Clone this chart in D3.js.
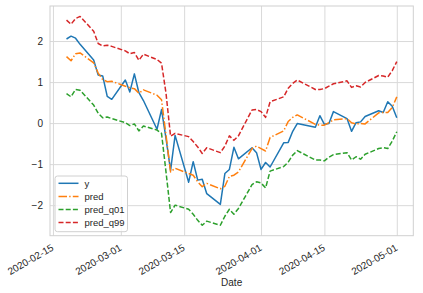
<!DOCTYPE html>
<html>
<head>
<meta charset="utf-8">
<script src="https://cdn.jsdelivr.net/npm/d3@7"></script>
<style>
  html, body { margin: 0; padding: 0; background: #ffffff; }
  svg { display: block; }
  text { font-family: "Liberation Sans", Arial, sans-serif; fill: #262626; }
</style>
</head>
<body>
<svg id="chart" width="423" height="293"></svg>
<script>
// ---- Data ----
const dates = [
  "2020-02-18","2020-02-19","2020-02-20","2020-02-21","2020-02-24","2020-02-25","2020-02-26","2020-02-27","2020-02-28",
  "2020-03-02","2020-03-03","2020-03-04","2020-03-05","2020-03-06","2020-03-09","2020-03-10","2020-03-11","2020-03-12","2020-03-13",
  "2020-03-16","2020-03-17","2020-03-18","2020-03-19","2020-03-20","2020-03-23","2020-03-24","2020-03-25","2020-03-26","2020-03-27",
  "2020-03-30","2020-03-31","2020-04-01","2020-04-02","2020-04-03","2020-04-06","2020-04-07","2020-04-08","2020-04-09",
  "2020-04-13","2020-04-14","2020-04-15","2020-04-16","2020-04-17","2020-04-20","2020-04-21","2020-04-22","2020-04-23","2020-04-24",
  "2020-04-27","2020-04-28","2020-04-29","2020-04-30","2020-05-01"
];
const yValues = [
  2.05, 2.12, 2.07, 1.92, 1.54, 1.17, 1.15, 0.65, 0.58,
  1.05, 0.76, 1.20, 0.74, 0.55, -0.15, 0.33, -0.38, -1.15, -0.30,
  -1.44, -0.94, -1.39, -1.37, -1.72, -1.98, -1.23, -1.13, -0.59, -0.87,
  -0.60, -0.72, -1.13, -0.96, -1.07, -0.48, -0.47, -0.20, -0.01,
  -0.10, 0.18, -0.03, -0.01, 0.28, 0.11, -0.20, 0.01, 0.03, 0.16,
  0.30, 0.26, 0.52, 0.41, 0.13
];
const predValues = [
  1.62, 1.52, 1.69, 1.71, 1.47, 1.22, 1.06, 1.01, 1.02,
  0.90, 0.86, 0.84, 0.73, 0.81, 0.68, 0.57, -0.30, -1.19, -1.10,
  -1.23, -1.27, -1.43, -1.55, -1.47, -1.60, -1.54, -1.30, -1.27, -1.19,
  -0.62, -0.56, -0.62, -0.68, -0.35, -0.19, 0.04, 0.14, 0.20,
  -0.03, -0.05, -0.05, 0.01, 0.08, 0.11, 0.01, -0.02, -0.01, -0.02,
  0.25, 0.26, 0.26, 0.38, 0.64
];
const q01Values = [
  0.72, 0.64, 0.82, 0.80, 0.44, 0.24, 0.13, 0.15, 0.11,
  0.01, -0.06, -0.02, -0.19, -0.07, -0.17, -0.25, -1.20, -2.18, -2.00,
  -2.10, -2.22, -2.37, -2.49, -2.39, -2.49, -2.27, -2.10, -2.22, -2.08,
  -1.50, -1.43, -1.46, -1.58, -1.17, -1.06, -0.95, -0.78, -0.67,
  -0.90, -0.90, -0.92, -0.83, -0.77, -0.72, -0.90, -0.82, -0.88, -0.76,
  -0.62, -0.60, -0.62, -0.44, -0.21
];
const q99Values = [
  2.51, 2.41, 2.55, 2.60, 2.24, 1.94, 1.88, 1.90, 1.87,
  1.76, 1.69, 1.72, 1.53, 1.68, 1.55, 1.46, 0.72, -0.32, -0.25,
  -0.33, -0.45, -0.58, -0.74, -0.60, -0.72, -0.56, -0.31, -0.42, -0.31,
  0.32, 0.33, 0.28, 0.14, 0.52, 0.64, 0.85, 0.97, 1.05,
  0.82, 0.82, 0.84, 0.90, 0.96, 1.03, 0.87, 0.91, 0.88, 0.99,
  1.16, 1.15, 1.12, 1.28, 1.50
];
const seriesNames = ["y", "pred", "pred_q01", "pred_q99"];
const xTickLabels = ["2020-02-15","2020-03-01","2020-03-15","2020-04-01","2020-04-15","2020-05-01"];
const yTickLabels = [-2, -1, 0, 1, 2];
const xLabel = "Date";

// ---- Styles ----
const colors = ["#1f77b4", "#ff7f0e", "#2ca02c", "#d62728"];
const dashes = [null, "8.5,2.2,1.4,2.2", "5,2.2", "5,2.2"];

const parse = d3.timeParse("%Y-%m-%d");
const dateObjs = dates.map(parse);
const allSeries = [yValues, predValues, q01Values, q99Values];

const plot = { left: 50, right: 413.3, top: 6, bottom: 235.7 };

// matplotlib-like 5% margins
const xExt = d3.extent(dateObjs);
const xPad = (xExt[1] - xExt[0]) * 0.05;
const x = d3.scaleTime()
  .domain([new Date(+xExt[0] - xPad), new Date(+xExt[1] + xPad)])
  .range([plot.left, plot.right]);

const allVals = allSeries.flat();
const yMin = d3.min(allVals), yMax = d3.max(allVals);
const yPad = (yMax - yMin) * 0.05;
const y = d3.scaleLinear()
  .domain([yMin - yPad, yMax + yPad])
  .range([plot.bottom, plot.top]);

const svg = d3.select("#chart");

// grid via axes
const gridColor = "#d9d9d9";
const xAxis = d3.axisBottom(x)
  .tickValues(xTickLabels.map(parse))
  .tickSize(-(plot.bottom - plot.top))
  .tickFormat(d3.timeFormat("%Y-%m-%d"));
const gx = svg.append("g")
  .attr("transform", `translate(0,${plot.bottom})`)
  .call(xAxis);
gx.select(".domain").remove();
gx.selectAll(".tick line").attr("stroke", gridColor).attr("stroke-width", 1);
gx.selectAll(".tick text")
  .attr("font-size", 10)
  .attr("fill", "#262626")
  .attr("text-anchor", "end")
  .attr("y", 0).attr("dy", 0)
  .attr("transform", "translate(1,14) rotate(-30)");

const yAxis = d3.axisLeft(y)
  .tickValues(yTickLabels)
  .tickSize(-(plot.right - plot.left))
  .tickFormat(d => d < 0 ? "\u2212" + Math.abs(d) : String(d));
const gy = svg.append("g")
  .attr("transform", `translate(${plot.left},0)`)
  .call(yAxis);
gy.select(".domain").remove();
gy.selectAll(".tick line").attr("stroke", gridColor).attr("stroke-width", 1);
gy.selectAll(".tick text")
  .attr("font-size", 10)
  .attr("fill", "#262626")
  .attr("x", -7);

svg.selectAll(".tick text").attr("font-family", '"Liberation Sans", Arial, sans-serif');

// frame
svg.append("rect")
  .attr("x", plot.left).attr("y", plot.top)
  .attr("width", plot.right - plot.left).attr("height", plot.bottom - plot.top)
  .attr("fill", "none").attr("stroke", "#d0d0d0").attr("stroke-width", 1);

// lines
const clip = svg.append("clipPath").attr("id", "clip").append("rect")
  .attr("x", plot.left).attr("y", plot.top)
  .attr("width", plot.right - plot.left).attr("height", plot.bottom - plot.top);

const line = d3.line().x((d, i) => x(dateObjs[i])).y(d => y(d));
const order = [0, 1, 2, 3];
order.forEach(k => {
  svg.append("path")
    .datum(allSeries[k])
    .attr("d", line)
    .attr("fill", "none")
    .attr("stroke", colors[k])
    .attr("stroke-width", 1.5)
    .attr("stroke-dasharray", dashes[k])
    .attr("stroke-linejoin", "round")
    .attr("clip-path", "url(#clip)");
});

// legend
const lg = svg.append("g");
lg.append("rect")
  .attr("x", 55).attr("y", 176).attr("width", 72.5).attr("height", 55.7)
  .attr("rx", 2.5).attr("fill", "#ffffff").attr("fill-opacity", 0.8)
  .attr("stroke", "#d0d0d0").attr("stroke-width", 1);
seriesNames.forEach((name, i) => {
  const yy = 183.3 + i * 13.1;
  lg.append("line")
    .attr("x1", 58.5).attr("x2", 78.5).attr("y1", yy).attr("y2", yy)
    .attr("stroke", colors[i]).attr("stroke-width", 1.5)
    .attr("stroke-dasharray", dashes[i]);
  lg.append("text")
    .attr("x", 84.5).attr("y", yy).attr("dy", "0.35em")
    .attr("font-size", 9.5)
    .text(name);
});

// x label
svg.append("text")
  .attr("x", (plot.left + plot.right) / 2).attr("y", 286)
  .attr("text-anchor", "middle").attr("font-size", 10)
  .text(xLabel);
</script>
</body>
</html>
